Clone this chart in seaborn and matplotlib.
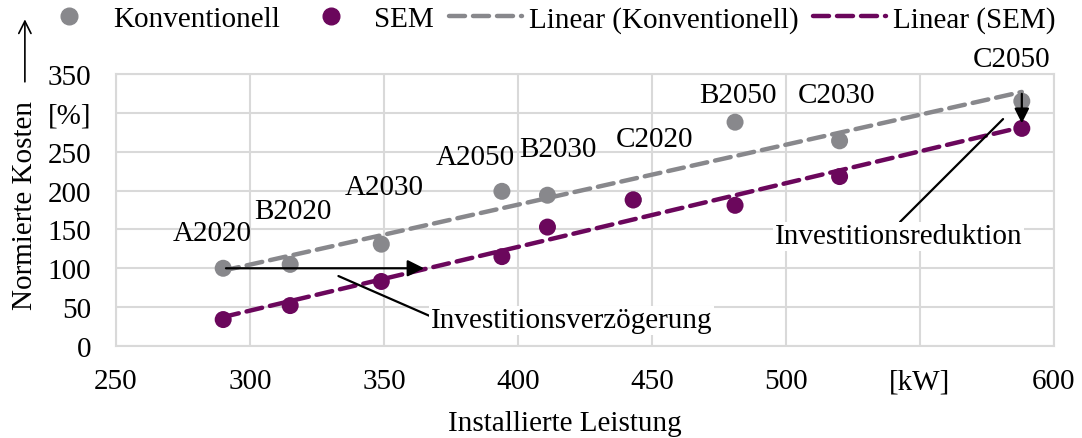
import numpy as np
import pandas as pd
import seaborn as sns
import matplotlib.pyplot as plt
from matplotlib.lines import Line2D

# values
leistung = [290, 315, 349, 394, 411, 443, 481, 520, 588]
kosten_konv = [100, 105, 131, 199, 194, 188, 288, 264, 315]
kosten_sem = [34, 52, 83, 115, 153, 188, 181, 218, 280]
szenarien = ["A2020", "B2020", "A2030", "A2050", "B2030", "C2020", "B2050", "C2030", "C2050"]
# label positions (data coords) for the scenario names
label_x = [286, 316, 350, 384, 415, 451, 482, 519, 584]
label_y = [145, 174, 205, 243, 253, 266, 323, 323, 369]

x_ticks = [250, 300, 350, 400, 450, 500, 550, 600]
x_ticklabels = ["250", "300", "350", "400", "450", "500", "[kW]", "600"]
y_ticks = [0, 50, 100, 150, 200, 250, 300, 350]
y_ticklabels = ["0", "50", "100", "150", "200", "250", "[%]", "350"]

GRAU = "#88888c"
LILA = "#6b075c"
FS = 21

df = pd.DataFrame({"Leistung": leistung, "Konventionell": kosten_konv, "SEM": kosten_sem})

sns.set_theme(style="white")
plt.rcParams["font.family"] = ["Liberation Serif", "DejaVu Serif"]
plt.rcParams["text.color"] = "black"
plt.rcParams["axes.labelcolor"] = "black"
plt.rcParams["xtick.color"] = "black"
plt.rcParams["ytick.color"] = "black"

fig = plt.figure(figsize=(10.82, 4.39), dpi=100)
ax = fig.add_axes([0.1072, 0.2096, 0.8669, 0.6196])

# trend lines (linear fit like Excel's trendline)
line_style = dict(lw=3.2, dashes=(3.6, 1.8), dash_capstyle="round", zorder=2)
sns.regplot(data=df, x="Leistung", y="Konventionell", scatter=False, ci=None, ax=ax,
            color=GRAU, line_kws=line_style)
sns.regplot(data=df, x="Leistung", y="SEM", scatter=False, ci=None, ax=ax,
            color=LILA, line_kws=line_style)

sns.scatterplot(data=df, x="Leistung", y="Konventionell", ax=ax, color=GRAU, s=150,
                edgecolor="none", zorder=3)
sns.scatterplot(data=df, x="Leistung", y="SEM", ax=ax, color=LILA, s=150,
                edgecolor="none", zorder=4)

for name, lx, ly in zip(szenarien, label_x, label_y):
    ax.text(lx, ly, name, ha="center", va="center", fontsize=FS, clip_on=False, zorder=5)

# Investitionsverzögerung
ax.annotate("", xy=(366, 100), xytext=(290, 100),
            arrowprops=dict(arrowstyle="-|>", color="black", lw=1.6, mutation_scale=25), zorder=5)
ax.annotate("Investitionsverzögerung", xy=(333, 90), xytext=(420, 33), fontsize=FS,
            ha="center", va="center",
            bbox=dict(boxstyle="square,pad=0.05", fc="white", ec="none"),
            arrowprops=dict(arrowstyle="-", color="black", lw=1.6, shrinkA=0, shrinkB=0,
                            relpos=(0.0, 0.65)), zorder=5)

# Investitionsreduktion
ax.annotate("", xy=(588, 283), xytext=(588, 328),
            arrowprops=dict(arrowstyle="-|>", color="black", lw=1.6, mutation_scale=22), zorder=5)
ax.annotate("Investitionsreduktion", xy=(581, 292), xytext=(542, 141), fontsize=FS,
            ha="center", va="center",
            bbox=dict(boxstyle="square,pad=0.05", fc="white", ec="none"),
            arrowprops=dict(arrowstyle="-", color="black", lw=1.6, shrinkA=0, shrinkB=0,
                            relpos=(0.5, 1.0)), zorder=5)

ax.set_xlim(250, 600)
ax.set_ylim(0, 350)
ax.set_xticks(x_ticks)
ax.set_xticklabels(x_ticklabels, fontsize=FS)
ax.set_yticks(y_ticks)
ax.set_yticklabels(y_ticklabels, fontsize=FS)
ax.tick_params(axis="x", length=0, pad=16)
ax.tick_params(axis="y", length=0, pad=18)
ax.grid(True, color="#d9d9d9", lw=1.5)
ax.set_axisbelow(True)
for sp in ax.spines.values():
    sp.set_color("#d9d9d9")
    sp.set_linewidth(1.5)

ax.set_xlabel("Installierte Leistung", fontsize=FS)
ax.xaxis.set_label_coords(0.479, -0.235)
ax.set_ylabel("Normierte Kosten", fontsize=FS)
ax.yaxis.set_label_coords(-0.083, 0.52)
ax.annotate("", xy=(0.023, 0.96), xytext=(0.023, 0.805), xycoords="figure fraction",
            textcoords="figure fraction",
            arrowprops=dict(arrowstyle="->", color="black", lw=1.2, mutation_scale=22))

handles = [
    Line2D([], [], marker="o", ls="none", color=GRAU, markersize=12),
    Line2D([], [], marker="o", ls="none", color=LILA, markersize=12),
    Line2D([], [], color=GRAU, lw=3.2, dashes=(3.6, 1.8), dash_capstyle="round"),
    Line2D([], [], color=LILA, lw=3.2, dashes=(3.6, 1.8), dash_capstyle="round"),
]
labels = ["Konventionell", "SEM", "Linear (Konventionell)", "Linear (SEM)"]
fig.legend(handles, labels, loc="center", bbox_to_anchor=(0.503, 0.954), ncol=4,
           frameon=False, fontsize=FS, handlelength=2.5, handletextpad=0.25,
           columnspacing=0.5, borderpad=0)

fig.savefig("out.png", dpi=100)
